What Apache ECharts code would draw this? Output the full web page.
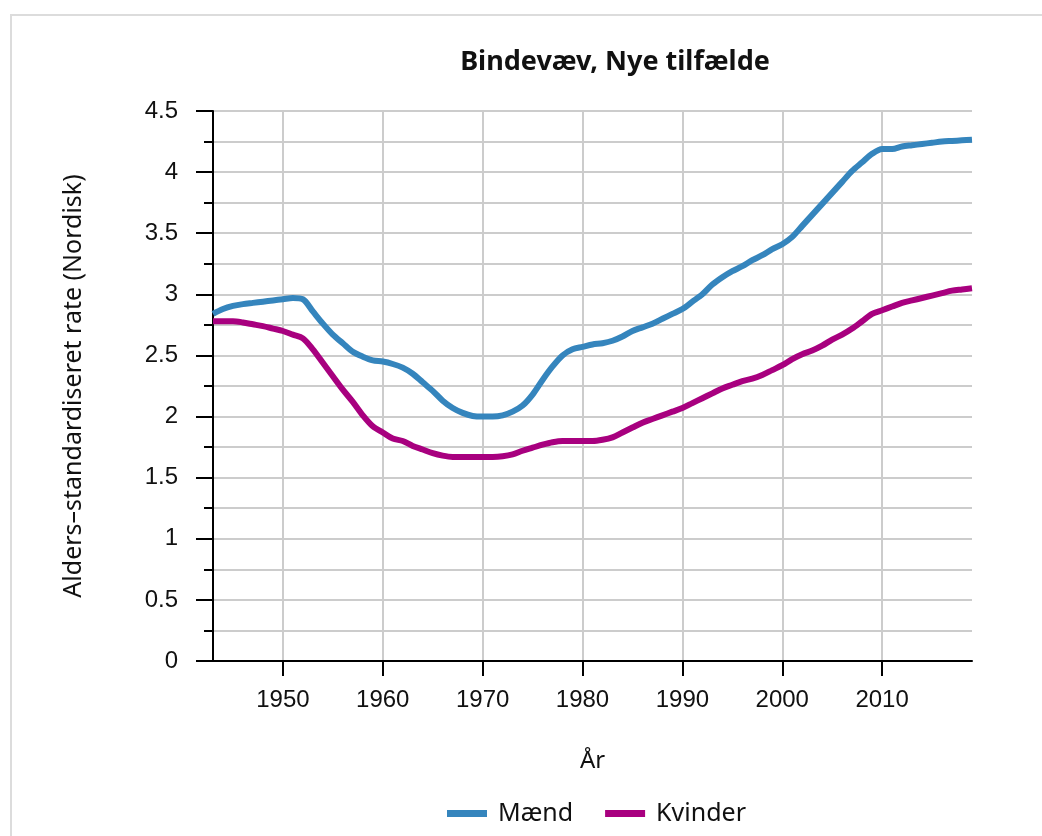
<!DOCTYPE html>
<html>
<head>
<meta charset="utf-8">
<script src="https://cdn.jsdelivr.net/npm/echarts@6/dist/echarts.min.js"></script>
<style>
html, body { margin: 0; padding: 0; background: #fff; }
#frame { position: absolute; left: 10px; top: 14px; width: 1100px; height: 900px;
  border-left: 2px solid #dcdcdc; border-top: 2px solid #dcdcdc; }
#chart { position: absolute; left: 0; top: 0; width: 1042px; height: 836px; }
</style>
</head>
<body>
<div id="frame"></div>
<div id="chart"></div>
<script>
var years = [];
for (var y = 1943; y <= 2019; y++) years.push(String(y));

var maend = [
    2.84, 2.88, 2.905, 2.92, 2.93, 2.94, 2.95, 2.96, 2.97, 2.96,
    2.86, 2.76, 2.67, 2.60, 2.53, 2.49, 2.46, 2.45, 2.43, 2.40,
    2.35, 2.28, 2.21, 2.13, 2.07, 2.03, 2.005, 2.00, 2.00, 2.01,
    2.04, 2.09, 2.18, 2.30, 2.41, 2.50, 2.55, 2.57, 2.59, 2.60,
    2.62, 2.655, 2.70, 2.73, 2.76, 2.80, 2.84, 2.88, 2.94, 3.00,
    3.08, 3.14, 3.19, 3.23, 3.28, 3.32, 3.37, 3.41, 3.47, 3.56,
    3.65, 3.74, 3.83, 3.92, 4.01, 4.08, 4.15, 4.19, 4.19, 4.21,
    4.22, 4.23, 4.24, 4.25, 4.255, 4.26, 4.265
];

var kvinder = [
    2.78, 2.78, 2.78, 2.77, 2.755, 2.74, 2.72, 2.70, 2.67, 2.64,
    2.55, 2.44, 2.33, 2.22, 2.12, 2.01, 1.92, 1.87, 1.82, 1.80,
    1.76, 1.73, 1.70, 1.68, 1.67, 1.67, 1.67, 1.67, 1.67, 1.675,
    1.69, 1.72, 1.745, 1.77, 1.79, 1.80, 1.80, 1.80, 1.80, 1.81,
    1.83, 1.87, 1.91, 1.95, 1.98, 2.01, 2.04, 2.07, 2.11, 2.15,
    2.19, 2.23, 2.26, 2.29, 2.31, 2.34, 2.38, 2.42, 2.47, 2.51,
    2.54, 2.58, 2.63, 2.67, 2.72, 2.78, 2.84, 2.87, 2.90, 2.93,
    2.95, 2.97, 2.99, 3.01, 3.03, 3.04, 3.05
];

var seriesNames = ["Mænd", "Kvinder"];
var colors = ["#3585bd", "#a8007f"];

function isDecade(i, v) { return Number(v) % 10 === 0; }

var chart = echarts.init(document.getElementById("chart"), null, { renderer: "canvas" });

var option = {
    backgroundColor: "transparent",
    animation: false,
    color: colors,
    title: {
        text: "Bindevæv, Nye tilfælde",
        left: 610,
        top: 44,
        textAlign: "center",
        textStyle: { fontFamily: "Noto Sans", fontWeight: "bold", fontSize: 27, color: "#111" }
    },
    legend: {
        bottom: 5,
        left: 442,
        icon: "rect",
        itemWidth: 40,
        itemHeight: 7,
        itemGap: 32,
        textStyle: { fontFamily: "Noto Sans", fontSize: 25, color: "#111", padding: [0, 0, 0, 6] },
        data: seriesNames
    },
    grid: { left: 213, right: 70, top: 111, bottom: 175, containLabel: false },
    xAxis: {
        type: "category",
        data: years,
        boundaryGap: false,
        name: "År",
        nameLocation: "middle",
        nameGap: 88,
        nameTextStyle: { fontFamily: "Noto Sans", fontSize: 24, color: "#111" },
        axisLine: { lineStyle: { color: "#000", width: 2 } },
        axisTick: { show: true, length: 15, interval: isDecade, lineStyle: { color: "#000", width: 2 } },
        axisLabel: { interval: isDecade, margin: 27, fontFamily: "Liberation Sans", fontSize: 24, color: "#111" },
        splitLine: { show: true, interval: isDecade, lineStyle: { color: "#cccccc", width: 2 } }
    },
    yAxis: {
        type: "value",
        min: 0,
        max: 4.5,
        interval: 0.5,
        name: "Alders–standardiseret rate (Nordisk)",
        nameLocation: "middle",
        nameGap: 127,
        nameTextStyle: { fontFamily: "Noto Sans", fontSize: 25, color: "#111" },
        axisLine: { show: true, lineStyle: { color: "#000", width: 2 } },
        axisTick: { show: true, length: 17, lineStyle: { color: "#000", width: 2 } },
        minorTick: { show: true, splitNumber: 2, length: 9, lineStyle: { color: "#000", width: 2 } },
        axisLabel: { margin: 35, fontFamily: "Liberation Sans", fontSize: 24, color: "#111" },
        splitLine: { show: true, lineStyle: { color: "#cccccc", width: 2 } },
        minorSplitLine: { show: true, lineStyle: { color: "#cccccc", width: 2 } }
    },
    series: [
        {
            name: seriesNames[0], type: "line", data: maend, smooth: 0.3,
            showSymbol: false, symbol: "none",
            lineStyle: { width: 6, color: colors[0] }
        },
        {
            name: seriesNames[1], type: "line", data: kvinder, smooth: 0.3,
            showSymbol: false, symbol: "none",
            lineStyle: { width: 6, color: colors[1] }
        }
    ]
};

chart.setOption(option);
</script>
</body>
</html>
